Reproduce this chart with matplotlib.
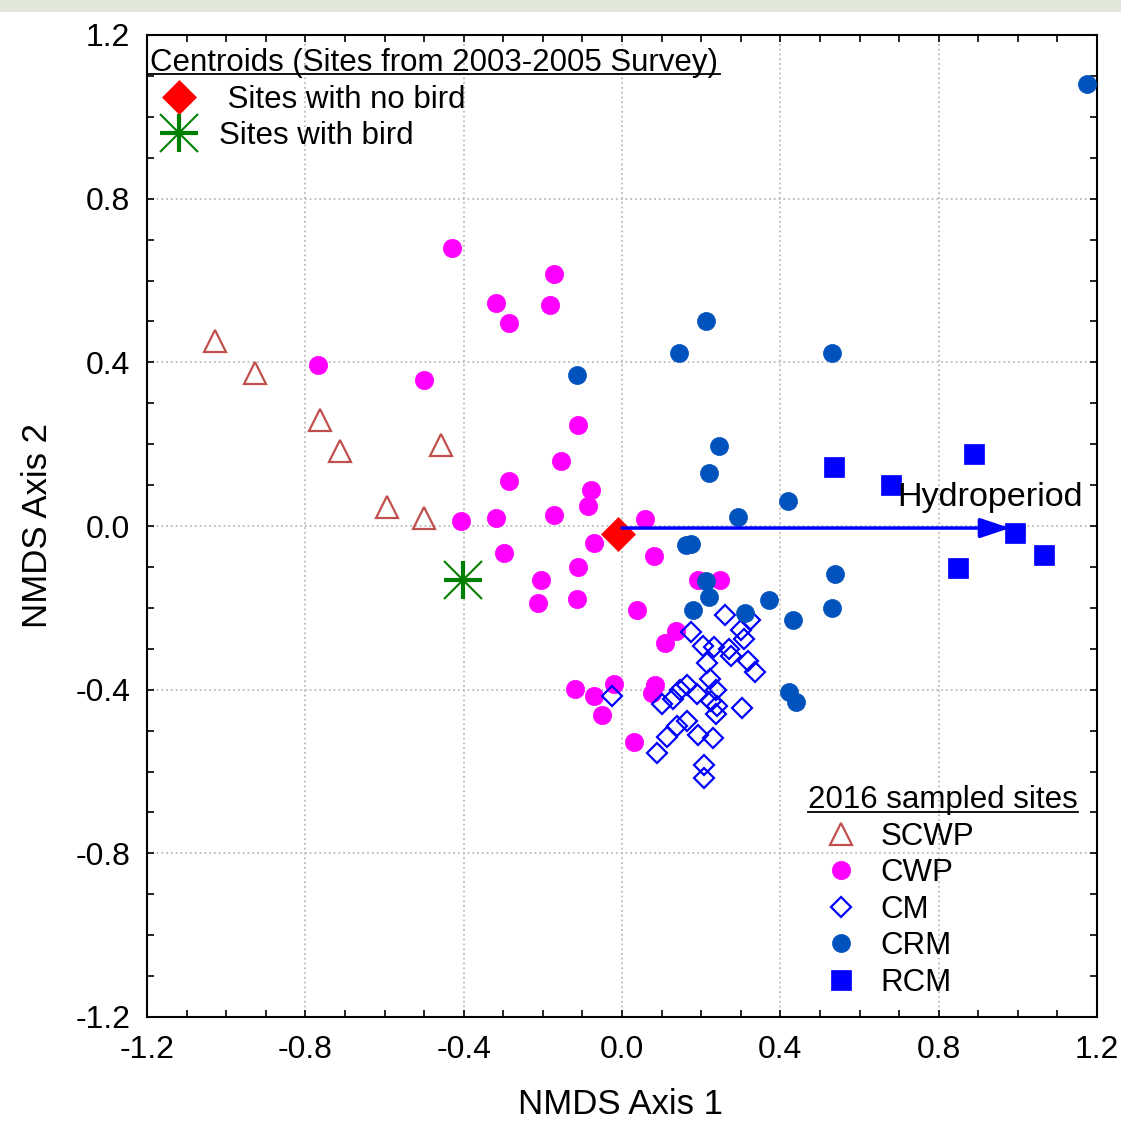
import matplotlib
matplotlib.use('Agg')
import matplotlib.pyplot as plt
from matplotlib.lines import Line2D
from matplotlib.patches import Rectangle

plt.rcParams['font.family'] = ['Liberation Sans', 'DejaVu Sans']
plt.rcParams['axes.unicode_minus'] = False

# ---------------- data (NMDS scores) ----------------
scwp_x = [-1.027, -0.927, -0.763, -0.712, -0.457, -0.593, -0.501]
scwp_y = [0.451, 0.374, 0.259, 0.183, 0.198, 0.046, 0.020]

cwp_x = [-0.430, -0.172, -0.318, -0.182, -0.285, -0.768, -0.500, -0.111, -0.154,
         -0.285, -0.078, -0.086, -0.407, -0.318, -0.172, 0.058, -0.298, -0.071,
         0.081, -0.111, -0.205, -0.212, -0.114, 0.038, 0.192, 0.248, 0.136,
         0.109, -0.119, -0.020, -0.071, -0.051, 0.083, 0.076, 0.030]
cwp_y = [0.680, 0.617, 0.546, 0.539, 0.495, 0.393, 0.356, 0.246, 0.159,
         0.110, 0.088, 0.049, 0.012, 0.020, 0.027, 0.017, -0.066, -0.041,
         -0.073, -0.100, -0.132, -0.188, -0.178, -0.205, -0.132, -0.132, -0.256,
         -0.285, -0.398, -0.385, -0.415, -0.463, -0.388, -0.407, -0.527]

cm_x = [0.260, 0.323, 0.174, 0.301, 0.308, 0.205, 0.232, 0.270, 0.275, 0.215,
        0.318, 0.336, 0.222, 0.164, 0.189, 0.237, 0.147, -0.025, 0.101, 0.129,
        0.225, 0.240, 0.237, 0.303, 0.139, 0.164, 0.114, 0.192, 0.230, 0.088,
        0.207, 0.207]
cm_y = [-0.217, -0.229, -0.259, -0.254, -0.276, -0.293, -0.295, -0.300, -0.317,
        -0.334, -0.329, -0.356, -0.373, -0.388, -0.410, -0.400, -0.402, -0.415,
        -0.434, -0.422, -0.427, -0.441, -0.459, -0.446, -0.488, -0.476, -0.515,
        -0.512, -0.517, -0.554, -0.583, -0.617]

crm_x = [1.175, 0.212, 0.144, 0.531, -0.114, 0.245, 0.220, 0.419, 0.293, 0.162,
         0.174, 0.538, 0.212, 0.220, 0.179, 0.371, 0.432, 0.311, 0.531, 0.422,
         0.440]
crm_y = [1.080, 0.502, 0.422, 0.422, 0.368, 0.195, 0.129, 0.061, 0.022, -0.046,
         -0.044, -0.117, -0.134, -0.173, -0.205, -0.180, -0.229, -0.212, -0.200,
         -0.405, -0.429]

rcm_x = [0.536, 0.679, 0.889, 0.993, 1.065, 0.850]
rcm_y = [0.145, 0.099, 0.176, -0.018, -0.071, -0.102]

centroid_nobird = [-0.011, -0.020]
centroid_bird = [-0.401, -0.132]

hydro_origin = [0.0, -0.005]
hydro_tip = [0.98, -0.005]
hydro_label = 'Hydroperiod'
hydro_label_pos = [0.695, 0.07]

ticks = [-1.2, -0.8, -0.4, 0.0, 0.4, 0.8, 1.2]
tick_labels = ['-1.2', '-0.8', '-0.4', '0.0', '0.4', '0.8', '1.2']

group_labels = ['SCWP', 'CWP', 'CM', 'CRM', 'RCM']
centroid_labels = [' Sites with no bird', 'Sites with bird']

# ---------------- styles ----------------
C_SCWP = '#C0504D'
C_CWP = '#FF00FF'
C_CM = '#0000FF'
C_CRM = '#0052BD'
C_RCM = '#0000FF'
C_RED = '#FF0000'
C_GREEN = '#008000'

W, H = 1121, 1130
fig = plt.figure(figsize=(W / 100, H / 100), dpi=100)
fig.patches.append(Rectangle((0, 1 - 12 / H), 1, 12 / H, transform=fig.transFigure,
                             facecolor='#e0e7d8', edgecolor='none', zorder=0))
ax = fig.add_axes([147 / W, 1 - 1017 / H, 950 / W, 982 / H])

ax.set_xlim(-1.2, 1.2)
ax.set_ylim(-1.2, 1.2)

st_scwp = dict(ls='none', marker='^', ms=15.5, mfc='none', mec=C_SCWP, mew=1.6)
st_cwp = dict(ls='none', marker='o', ms=13.2, mfc=C_CWP, mec=C_CWP, mew=0.5)
st_cm = dict(ls='none', marker='D', ms=10.2, mfc='none', mec=C_CM, mew=1.6)
st_crm = dict(ls='none', marker='o', ms=13, mfc=C_CRM, mec=C_CRM, mew=0.5)
st_rcm = dict(ls='none', marker='s', ms=13.7, mfc=C_RCM, mec=C_RCM, mew=0.5)
st_red = dict(ls='none', marker='D', ms=17.3, mfc=C_RED, mec=C_RED, mew=0.5)
st_plus = dict(ls='none', marker='+', ms=27, mew=3, color=C_GREEN)
st_x = dict(ls='none', marker='x', ms=27, mew=1.5, color=C_GREEN)

ax.plot(scwp_x, scwp_y, zorder=3, **st_scwp)
ax.plot(cwp_x, cwp_y, zorder=3, **st_cwp)
ax.plot(cm_x, cm_y, zorder=4, **st_cm)
ax.plot(crm_x, crm_y, zorder=5, **st_crm)
ax.plot(rcm_x, rcm_y, zorder=6, **st_rcm)
ax.plot([centroid_nobird[0]], [centroid_nobird[1]], zorder=8, **st_red)
ax.plot([centroid_bird[0]], [centroid_bird[1]], zorder=8, **st_plus)
ax.plot([centroid_bird[0]], [centroid_bird[1]], zorder=8, **st_x)

ax.annotate('', xy=tuple(hydro_tip), xytext=tuple(hydro_origin),
            arrowprops=dict(arrowstyle='-|>,head_length=0.9,head_width=0.3',
                            color='#0000FF', lw=2.5, mutation_scale=20,
                            shrinkA=0, shrinkB=0), zorder=9)
ax.text(hydro_label_pos[0], hydro_label_pos[1], hydro_label, fontsize=24.6,
        ha='left', va='center', zorder=10)

# axes, ticks, grid
ax.set_xticks(ticks)
ax.set_xticklabels(tick_labels)
ax.set_yticks(ticks)
ax.set_yticklabels(tick_labels)
minor = [round(-1.2 + 0.1 * i, 1) for i in range(25)]
ax.set_xticks(minor, minor=True)
ax.set_yticks(minor, minor=True)
ax.tick_params(which='both', direction='in', top=True, right=True,
               length=5, width=1.2, labelsize=23)
ax.tick_params(axis='x', pad=13)
ax.tick_params(axis='y', pad=12)
ax.grid(True, which='major', ls=':', color='#BBBBBB', lw=1.3)
ax.set_axisbelow(True)
for s in ax.spines.values():
    s.set_linewidth(1.5)

ax.set_xlabel('NMDS Axis 1', fontsize=25)
ax.set_ylabel('NMDS Axis 2', fontsize=25)
ax.xaxis.set_label_coords(0.498, -0.072)
ax.yaxis.set_label_coords(-0.098, 0.5)

# legends
cent_handles = [Line2D([], [], **st_red),
                (Line2D([], [], **st_plus), Line2D([], [], **st_x))]
leg1 = ax.legend(cent_handles, centroid_labels,
                 title='Centroids (Sites from 2003-2005 Survey)',
                 loc='upper left', bbox_to_anchor=(150 / W, 1 - 48 / H),
                 bbox_transform=fig.transFigure, frameon=False,
                 fontsize=22.5, title_fontsize=22.5, alignment='left',
                 borderpad=0, borderaxespad=0, handlelength=1.85,
                 handletextpad=0.37, labelspacing=0.21)
ax.add_artist(leg1)

grp_handles = [Line2D([], [], **st_scwp), Line2D([], [], **st_cwp),
               Line2D([], [], **st_cm), Line2D([], [], **st_crm),
               Line2D([], [], **st_rcm)]
leg2 = ax.legend(grp_handles, group_labels, title='2016 sampled sites',
                 loc='upper left', bbox_to_anchor=(808 / W, 1 - 785 / H),
                 bbox_transform=fig.transFigure, frameon=False,
                 fontsize=22.5, title_fontsize=22.5, alignment='left',
                 borderpad=0, borderaxespad=0, handlelength=2.1,
                 handletextpad=0.22, labelspacing=0.21)

# title underlines
fig.add_artist(Line2D([147 / W, 720 / W], [1 - 74.3 / H] * 2,
                      transform=fig.transFigure, color='black', lw=1.3))
fig.add_artist(Line2D([808 / W, 1078 / W], [1 - 811.7 / H] * 2,
                      transform=fig.transFigure, color='black', lw=1.3))

fig.savefig('out.png', dpi=100)
